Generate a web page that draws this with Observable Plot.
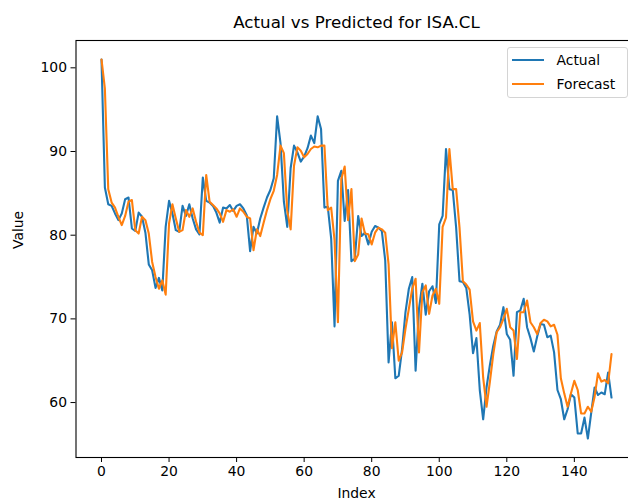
<!DOCTYPE html>
<html>
<head>
<meta charset="utf-8">
<script src="https://cdn.jsdelivr.net/npm/d3@7"></script>
<script src="https://cdn.jsdelivr.net/npm/@observablehq/plot@0.6"></script>
<style>
  html, body { margin: 0; padding: 0; background: #fff; }
  #chart { position: relative; width: 628px; height: 501px; overflow: hidden; font-family: "DejaVu Sans", sans-serif; }
  .legend { position: absolute; left: 506.5px; top: 46.5px; width: 121px; height: 51px; box-sizing: border-box;
            border: 1px solid #d4d4d4; border-radius: 3px; background: rgba(255,255,255,0.8); font-size: 13.9px; color: #000; }
  .legend .row { position: absolute; left: 0; height: 20px; display: flex; align-items: center; }
  .legend .swatch { position: absolute; left: 4px; width: 32px; height: 0; border-top: 2.1px solid; }
  .legend .lbl { position: absolute; left: 49px; white-space: nowrap; line-height: 20px; }
</style>
</head>
<body>
<div id="chart"></div>
<script>
// Closing values for ISA.CL over the test window, and the model's one-step forecast
const actual = [
  101.0, 85.7, 83.7, 83.5, 82.6, 81.8, 82.6, 84.3, 84.5, 80.8,
  80.5, 82.7, 82.2, 80.3, 76.5, 75.8, 73.7, 74.9, 73.4, 81.0,
  84.1, 82.6, 80.6, 80.4, 83.5, 82.3, 83.7, 82.0, 80.7, 80.1,
  86.9, 84.1, 83.9, 83.5, 82.7, 81.5, 83.3, 83.2, 83.6, 82.9,
  83.5, 83.7, 83.2, 82.4, 78.1, 81.0, 80.2, 82.0, 83.3, 84.5,
  85.4, 86.8, 94.2, 91.0, 84.0, 81.0, 88.0, 90.7, 89.9, 88.8,
  89.4, 90.4, 91.9, 91.0, 94.2, 92.7, 83.3, 83.4, 79.6, 69.1,
  86.5, 87.7, 81.7, 85.4, 76.9, 77.2, 82.3, 79.9, 80.3, 78.9,
  80.4, 81.1, 80.9, 80.5, 77.0, 64.8, 69.6, 62.9, 63.2, 66.4,
  70.8, 73.6, 75.0, 63.8, 71.2, 74.2, 70.5, 73.3, 73.9, 71.9,
  81.3, 82.3, 90.3, 85.5, 85.4, 80.9, 74.5, 74.4, 73.7, 70.5,
  65.9, 67.7, 61.5, 58.0, 61.8, 64.5, 66.8, 68.5, 69.3, 71.4,
  68.2, 67.5, 63.2, 70.8, 71.0, 72.4, 69.0, 67.7, 66.1, 67.9,
  69.4, 69.3, 67.8, 68.0, 66.0, 61.5, 60.4, 58.0, 59.2, 61.0,
  60.6, 56.3, 56.3, 58.2, 55.7, 58.8, 61.8, 60.9, 61.2, 61.0,
  63.6, 60.6
];

const forecast = [
  101.0, 97.5, 85.5, 83.9, 83.3, 82.2, 81.2, 82.3, 84.0, 84.2,
  80.6, 80.2, 82.2, 81.8, 80.2, 76.8, 75.0, 73.6, 74.6, 72.9,
  81.4, 83.7, 82.0, 80.4, 80.6, 83.0, 82.2, 83.2, 81.6, 80.3,
  80.0, 87.2, 84.0, 83.6, 83.2, 82.6, 81.6, 83.0, 82.8, 83.1,
  82.2, 83.2, 82.8, 82.2, 82.0, 78.2, 80.7, 79.9, 81.5, 83.0,
  84.3, 85.3, 87.2, 90.7, 89.8, 82.9, 80.7, 88.3, 90.5, 90.1,
  89.3, 89.7, 90.3, 90.6, 90.5, 90.7, 90.7, 83.0, 83.3, 79.4,
  69.6, 86.7, 88.2, 81.8, 85.5, 76.9, 77.7, 82.0, 80.2, 80.1,
  78.9, 80.3, 80.9, 80.7, 80.3, 76.5, 66.5, 69.6, 65.0, 66.0,
  68.8, 71.2, 73.6, 74.8, 66.0, 73.2, 74.0, 70.6, 72.8, 73.6,
  71.8, 81.0, 82.1, 90.3, 85.5, 85.5, 80.9, 74.5, 74.1, 73.5,
  69.7, 68.6, 69.5, 63.0, 59.5, 62.5, 65.8, 68.4, 69.0, 70.0,
  71.2, 69.0, 68.6, 65.2, 70.8, 70.8, 72.2, 69.6, 69.0, 68.2,
  69.5, 69.9, 69.7, 69.1, 69.3, 68.1, 62.9, 61.1, 59.5, 61.1,
  62.6, 61.5, 58.7, 58.7, 59.5, 58.9, 60.7, 63.5, 62.5, 62.7,
  62.3, 65.8
];

const xTicks = [0, 20, 40, 60, 80, 100, 120, 140];
const yTicks = [60, 70, 80, 90, 100];
const seriesNames = ["Actual", "Forecast"];
const seriesColors = ["#1f77b4", "#ff7f0e"];
const title = "Actual vs Predicted for ISA.CL";
const xLabel = "Index";
const yLabel = "Value";

const toRows = (values) => values.map((v, i) => ({index: i, value: v}));

// padded domains, 5% around the data range on each side
const n = actual.length - 1;
const all = actual.concat(forecast);
const yMin = d3.min(all), yMax = d3.max(all);
const yPad = (yMax - yMin) * 0.05, xPad = n * 0.05;

const chart = Plot.plot({
  width: 628,
  height: 501,
  marginLeft: 75.5,
  marginRight: -8.5,
  marginTop: 40,
  marginBottom: 44,
  style: {fontFamily: "DejaVu Sans, sans-serif", fontSize: "13.9px", color: "#000", background: "#fff", overflow: "visible"},
  x: {domain: [-xPad, n + xPad], ticks: xTicks, tickSize: 5, tickPadding: 4, label: null},
  y: {domain: [yMin - yPad, yMax + yPad], ticks: yTicks, tickSize: 5, tickPadding: 4, label: null},
  marks: [
    Plot.frame({stroke: "#000", strokeWidth: 1.1}),
    Plot.line(toRows(actual), {x: "index", y: "value", stroke: seriesColors[0], strokeWidth: 2.1, strokeLinejoin: "round"}),
    Plot.line(toRows(forecast), {x: "index", y: "value", stroke: seriesColors[1], strokeWidth: 2.1, strokeLinejoin: "round"}),
    Plot.text([title], {frameAnchor: "top", dy: -18, lineAnchor: "middle", fontSize: 16.7, fill: "#000"}),
    Plot.text([xLabel], {frameAnchor: "bottom", dy: 31, lineAnchor: "top", fill: "#000"}),
    Plot.text([yLabel], {frameAnchor: "left", dx: -57, rotate: -90, lineAnchor: "middle", fill: "#000"})
  ]
});

const root = document.getElementById("chart");
root.appendChild(chart);

// legend box in the upper-right corner of the axes
const legend = document.createElement("div");
legend.className = "legend";
seriesNames.forEach((name, k) => {
  const row = document.createElement("div");
  row.className = "row";
  row.style.top = (2.5 + k * 23.5) + "px";
  row.style.width = "100%";
  const sw = document.createElement("div");
  sw.className = "swatch";
  sw.style.borderTopColor = seriesColors[k];
  const lb = document.createElement("div");
  lb.className = "lbl";
  lb.textContent = name;
  row.appendChild(sw);
  row.appendChild(lb);
  legend.appendChild(row);
});
root.appendChild(legend);
</script>
</body>
</html>
